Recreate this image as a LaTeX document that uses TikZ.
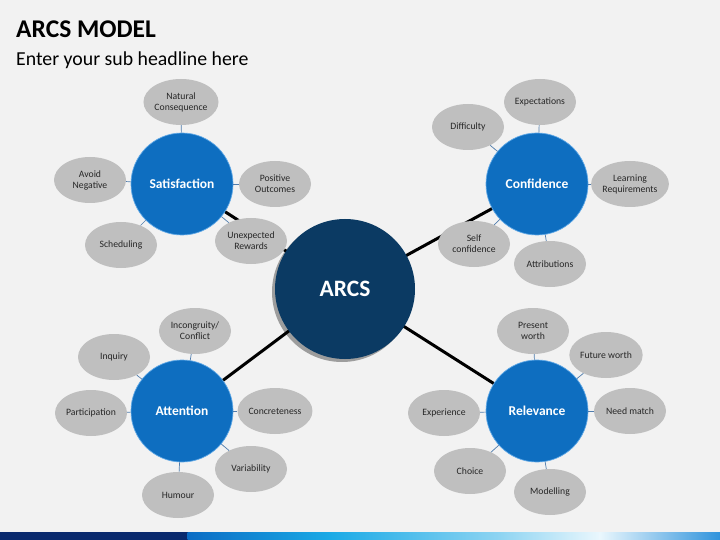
\documentclass[tikz,border=0pt]{standalone}
\usepackage{fontspec}
\setmainfont{Carlito}
\usetikzlibrary{shadows,shapes.geometric}
\definecolor{bg}{HTML}{F2F2F2}
\definecolor{navy}{HTML}{0B3A63}
\definecolor{cblue}{HTML}{0E6EC0}
\definecolor{cring}{HTML}{5FA8E6}
\definecolor{egray}{HTML}{BFBFBF}
\definecolor{etext}{HTML}{262626}
\definecolor{tick}{HTML}{4F7CAD}
\definecolor{bar1}{HTML}{0A2A6E}
\definecolor{bar2}{HTML}{0B6CC4}
\definecolor{bar3}{HTML}{1AAAE6}
\definecolor{bar4}{HTML}{8ED4F2}
\definecolor{bar5}{HTML}{EAF7FD}
\definecolor{bar6}{HTML}{2F93DC}
\tikzset{
  hub/.style={circle, fill=navy, minimum size=140pt, inner sep=0pt, text=white,
    font=\fontsize{23.5}{26}\selectfont\bfseries,
    drop shadow={shadow xshift=-3pt, shadow yshift=-3pt, opacity=0.35, fill=black}},
  topic/.style={circle, fill=cblue, draw=cring, line width=0.7pt, minimum size=102pt,
    inner sep=0pt, text=white, font=\fontsize{13.5}{15}\selectfont\bfseries},
  leaf/.style={ellipse, fill=egray, minimum width=72pt, minimum height=46pt, inner sep=0pt,
    text=etext, align=center, font=\fontsize{9.7}{11}\selectfont},
  spoke/.style={line width=3pt, black},
  twig/.style={line width=0.7pt, tick},
}
\begin{document}
\begin{tikzpicture}[x=1pt,y=-1pt]
\path[fill=bg] (0,0) rectangle (720,540);
\useasboundingbox (0,0) rectangle (720,540);
% title
\node[anchor=base west, inner sep=0pt, font=\fontsize{25.5}{28}\selectfont\bfseries, text=black] (title) at (16,38) {ARCS MODEL};
\node[anchor=base west, inner sep=0pt, font=\fontsize{19.8}{22}\selectfont, text=black] (sub) at (16,66) {Enter your sub headline here};
% bottom bar
\fill[bar1] (0,532) rectangle (188,540);
\shade[left color=bar2, right color=bar3] (187.5,532) rectangle (330,540);
\shade[left color=bar3, right color=bar4] (329.5,532) rectangle (500,540);
\shade[left color=bar4, right color=bar5] (499.5,532) rectangle (600,540);
\shade[left color=bar5, right color=bar6] (599.5,532) rectangle (720,540);
% coordinates of nodes
\coordinate (pA) at (345,289);
\coordinate (pS) at (182,184);
\coordinate (pC) at (537,184);
\coordinate (pT) at (182,411);
\coordinate (pR) at (537,411);
% spokes (behind)
\draw[spoke] (pA) -- (pS);
\draw[spoke] (pA) -- (pC);
\draw[spoke] (pA) -- (pT);
\draw[spoke] (pA) -- (pR);
% topic circles
\node[topic] (sat) at (pS) {Satisfaction};
\node[topic] (con) at (pC) {Confidence};
\node[topic] (att) at (pT) {Attention};
\node[topic] (rel) at (pR) {Relevance};
\node[hub] (arcs) at (pA) {ARCS};
% satisfaction leaves
\node[leaf] (s1) at (181,102) {Natural\\Consequence};
\node[leaf] (s2) at (90,180) {Avoid\\Negative};
\node[leaf] (s3) at (275,184) {Positive\\Outcomes};
\node[leaf] (s4) at (121,245) {Scheduling};
\node[leaf] (s5) at (251,241) {Unexpected\\Rewards};
% confidence leaves
\node[leaf] (c1) at (540,102) {Expectations};
\node[leaf] (c2) at (468,127) {Difficulty};
\node[leaf] (c3) at (630,184) {Learning\\Requirements};
\node[leaf] (c4) at (474,244) {Self\\confidence};
\node[leaf] (c5) at (550,264) {Attributions};
% attention leaves
\node[leaf] (t1) at (195,331) {Incongruity/\\Conflict};
\node[leaf] (t2) at (114,357) {Inquiry};
\node[leaf] (t3) at (91,413) {Participation};
\node[leaf] (t4) at (275,411) {Concreteness};
\node[leaf] (t5) at (251,469) {Variability};
\node[leaf] (t6) at (178,495) {Humour};
% relevance leaves
\node[leaf] (r1) at (533,331) {Present\\worth};
\node[leaf] (r2) at (606,355) {Future worth};
\node[leaf] (r3) at (444,413) {Experience};
\node[leaf] (r4) at (630,411) {Need match};
\node[leaf] (r5) at (470,471) {Choice};
\node[leaf] (r6) at (550,492) {Modelling};
% twigs
\foreach \a/\b in {sat/s1,sat/s2,sat/s3,sat/s4,sat/s5,
                   con/c1,con/c2,con/c3,con/c4,con/c5,
                   att/t1,att/t2,att/t3,att/t4,att/t5,att/t6,
                   rel/r1,rel/r2,rel/r3,rel/r4,rel/r5,rel/r6}
  \draw[twig] (\a) -- (\b);
\end{tikzpicture}
\end{document}
